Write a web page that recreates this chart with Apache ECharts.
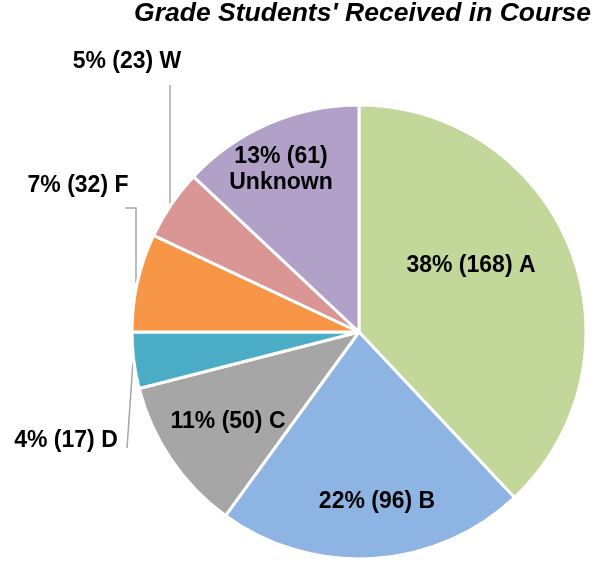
<!DOCTYPE html>
<html>
<head>
<meta charset="utf-8">
<script src="https://cdn.jsdelivr.net/npm/echarts@6/dist/echarts.min.js"></script>
<style>
  html, body { margin: 0; padding: 0; background: #fff; }
  #main { width: 596px; height: 561px; }
</style>
</head>
<body>
<div id="main"></div>
<script>
// grades, in drawing order (clockwise from 12 o'clock)
const grades = ['A', 'B', 'C', 'D', 'F', 'W', 'Unknown']
const counts = [168, 96, 50, 17, 32, 23, 61]
// percentages as printed on the chart (the slices are sized from these)
const percents = [38, 22, 11, 4, 7, 5, 13]
const colors = ['#C4D79B', '#8DB4E2', '#A6A6A6', '#4BACC6', '#F79646', '#DA9694', '#B1A0C7']

// label placement (centre of text) and leader lines for the outside labels
const labelSpots = [
  { x: 471, y: 266 },
  { x: 377, y: 502 },
  { x: 228, y: 422 },
  { x: 66, y: 441, line: [[133, 362], [127, 448], [127, 448]] },
  { x: 78, y: 186, line: [[136, 283], [136, 208], [125, 208]] },
  { x: 127, y: 62, line: [[170, 204], [170, 85], [170, 85]] },
  { x: 281, y: 170 }
]
const outside = ['D', 'F', 'W']

const chart = echarts.init(document.getElementById('main'))

const option = {
  animation: false,
  color: colors,
  title: {
    text: "Grade Students' Received in Course",
    right: 5,
    top: 0,
    padding: 0,
    textStyle: {
      fontFamily: 'Liberation Sans',
      fontSize: 26.5,
      fontWeight: 'bold',
      fontStyle: 'italic',
      color: '#000'
    }
  },
  series: [
    {
      type: 'pie',
      center: [359, 332],
      radius: 227,
      startAngle: 90,
      clockwise: true,
      avoidLabelOverlap: false,
      itemStyle: {
        borderColor: '#fff',
        borderWidth: 3
      },
      label: {
        fontFamily: 'Liberation Sans',
        fontSize: 23,
        fontWeight: 'bold',
        color: '#000',
        lineHeight: 26,
        align: 'center',
        formatter: (p) => {
          const sep = p.name === 'Unknown' ? '\n' : ' '
          return `${p.value}% (${counts[p.dataIndex]})${sep}${p.name}`
        }
      },
      labelLine: {
        lineStyle: { color: '#A6A6A6', width: 1.5 }
      },
      labelLayout: (params) => {
        const spot = labelSpots[params.dataIndex]
        const res = {
          x: spot.x,
          y: spot.y,
          align: 'center',
          verticalAlign: 'middle'
        }
        if (spot.line) res.labelLinePoints = spot.line
        return res
      },
      data: grades.map((g, i) => {
        const isOut = outside.includes(g)
        return {
          name: g,
          value: percents[i],
          label: { position: isOut ? 'outside' : 'inside' },
          labelLine: { show: isOut, length: 10, length2: 10 }
        }
      })
    }
  ]
}

chart.setOption(option)
</script>
</body>
</html>
